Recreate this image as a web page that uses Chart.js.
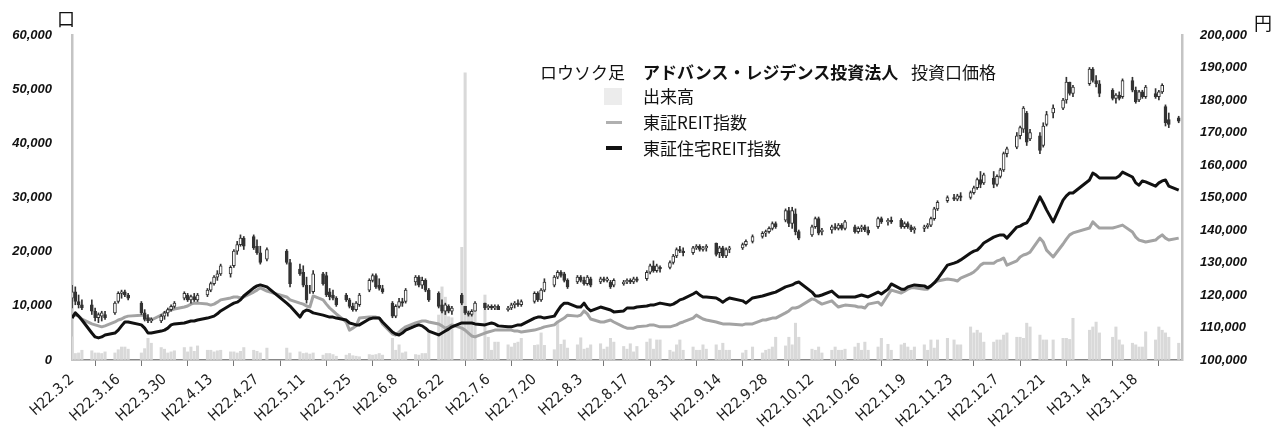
<!DOCTYPE html>
<html lang="ja">
<head>
<meta charset="utf-8">
<script src="https://cdn.jsdelivr.net/npm/chart.js@4/dist/chart.umd.min.js"></script>
<style>
  body { margin: 0; background: #fff; }
  #wrap { position: relative; width: 1282px; height: 429px; }
  .txt { position: absolute; font-family: "Noto Sans CJK JP", sans-serif; font-size: 17px; color: #111; white-space: nowrap; line-height: 20px; }
  .sw { position: absolute; }
</style>
</head>
<body>
<div id="wrap">
  <canvas id="myChart" width="1282" height="429"></canvas>
  <div class="txt" style="left:57px; top:8px; font-size:18px;">口</div>
  <div class="txt" style="left:1254px; top:12px; font-size:18px;">円</div>
  <div class="txt" style="left:540px; top:62px;">ロウソク足</div>
  <div class="txt" style="left:643px; top:62px; font-weight:bold;">アドバンス・レジデンス投資法人</div>
  <div class="txt" style="left:911px; top:62px;">投資口価格</div>
  <div class="sw" style="left:604px; top:88px; width:18px; height:17px; background:#ececec;"></div>
  <div class="txt" style="left:643px; top:86px;">出来高</div>
  <div class="sw" style="left:606px; top:121px; width:16px; height:3px; background:#b0b0b0;"></div>
  <div class="txt" style="left:643px; top:112px;">東証REIT指数</div>
  <div class="sw" style="left:606px; top:146px; width:16px; height:4px; background:#111;"></div>
  <div class="txt" style="left:643px; top:138px;">東証住宅REIT指数</div>
</div>
<script>
// tick labels, one every 14 days from H22.3.2
const xLabels = ["H22.3.2", "H22.3.16", "H22.3.30", "H22.4.13", "H22.4.27", "H22.5.11",
  "H22.5.25", "H22.6.8", "H22.6.22", "H22.7.6", "H22.7.20", "H22.8.3", "H22.8.17",
  "H22.8.31", "H22.9.14", "H22.9.28", "H22.10.12", "H22.10.26", "H22.11.9",
  "H22.11.23", "H22.12.7", "H22.12.21", "H23.1.4", "H23.1.18"];

// candles, thousand yen, one entry per weekday (null = market closed)
const openK = [
  119, 121, 118, 117,
  117, 115, 113, 113.5, 114,
  114.5, 118, 120.5, 121, 120,
  null, 117.5, 114.5, 113, 112,
  112, 113.5, 114.5, 115.5, 116.5,
  119, 120, 118.5, 119.5, 118.5,
  120, 121.5, 123.5, 125.5, 126.5,
  126.5, 129, 133.5, 135.5, 137.5,
  138, 135, 133, null, 131,
  null, null, null, 133.5, 130,
  128, 127, 123, 121, 121,
  126.5, 126, 121, 120, 119,
  120, 118.5, 116.5, 115.5, 117,
  121.5, 124.5, 126, 123, 122,
  117.5, 113.5, 116.5, 118, 118,
  124, 125.5, 123, 124.5, 121.5,
  120.5, 117, 115, 116.5, 115,
  120, 116.5, 114.5, 114, 115,
  117.5, 116, 116.5, 116, 116.5,
  115.5, 116, 117, 117.5, 117,
  null, 118, 120.5, 118.5, 121.5,
  123, 125.5, 127, 126.5, 124.5,
  124, 125.5, 124.5, 123.5, 125,
  124, 125, 124.5, 124, 123,
  123.5, 124, 124.5, 124, 125,
  125, 127, 129, 127.5, 128.5,
  128.5, 130, 132, 134, 133.5,
  133, 134.5, 135, 134, 134.5,
  136, 133, 134.5, 132, 134,
  null, 134.5, 135.5, null, 136.5,
  138, 139, 139.5, 140.5, 142,
  143, 146, 142, 145, 139.5,
  null, 138.5, 141, 143.5, 139.5,
  140, 141, 140.5, 141.5, 140.5,
  141, 139.5, 140.5, 141, 140,
  141, 143.5, null, 142.5, 143,
  143, 141, 142, 141, 140,
  140.5, 141, 141.5, 143.5, 146.5,
  149, null, 150, 149.5, 150.5,
  150, 151.5, 153, 155.5, 154.5,
  156, 154, 156.5, 158.5, 163.5,
  165.5, 169, 171, 176, 168,
  169, 166, 172.5, null, 176,
  177.5, 180, 185.5, 182, null,
  null, 185, 189.5, 186, 185,
  null, 183, 180.5, 181.5, 181,
  186, 183, 180, 182.5, 181,
  182, 181, 182.5, 178, 174,
  174.5];
const highK = [
  123, 122.5, 120, 118.5,
  118.5, 116, 114.5, 115, 115,
  118, 121, 121.5, 121.5, 120.5,
  null, 118, 115.5, 114, 113,
  114, 115, 116, 117, 118,
  121, 120.5, 120, 120.5, 120.5,
  122, 124, 126, 127.5, 129.5,
  129, 134, 136.5, 138.5, 138,
  138.5, 137, 135, null, 134.5,
  null, null, null, 134, 131,
  129.5, 129, 125.5, 123, 127.5,
  127, 127, 122, 121.5, 119.5,
  120.5, 119, 117.5, 118, 120.5,
  125, 126.5, 126.5, 125, 123,
  118, 117, 119, 119, 122,
  126, 126, 125.5, 125, 122,
  121, 118.5, 117.5, 117, 116.5,
  120.5, 116.5, 115, 115.5, 118,
  117.5, 117, 117, 117, 117,
  116.5, 117.5, 118, 118.5, 118.5,
  null, 121, 121, 122, 125,
  126, 127.5, 127.5, 127, 125,
  126, 126, 125.5, 126, 125.5,
  125.5, 125.5, 125.5, 124.5, 125,
  124.5, 125, 125, 125.5, 125.5,
  127.5, 129.5, 130.5, 129.5, 129,
  130.5, 132.5, 134.5, 135, 134.5,
  135, 135.5, 135.5, 135, 135.5,
  136, 135, 135, 134.5, 135,
  null, 136, 137, null, 138.5,
  139.5, 140, 141, 142.5, 142.5,
  146.5, 147, 147, 146.5, 140,
  null, 141.5, 144, 144, 140.5,
  141.5, 142, 142, 142, 143,
  141.5, 141, 141.5, 141.5, 141,
  144, 144, null, 143.5, 144,
  143.5, 142.5, 142.5, 141.5, 141,
  141.5, 142, 144, 147, 149,
  150.5, null, 151, 151, 151.5,
  152, 153.5, 156, 158, 157.5,
  158, 157, 159, 164, 165.5,
  170, 172, 178, 176.5, 171,
  170, 173, 176.5, null, 178.5,
  180.5, 187, 185.5, 184.5, null,
  null, 190, 190, 187.5, 186,
  null, 183.5, 182, 182.5, 186.5,
  187, 184, 183, 183, 184.5,
  183.5, 183, 185, 178.5, 176,
  175];
const lowK = [
  116, 117, 116, 115.5,
  114, 112, 111.5, 112, 112.5,
  114, 117.5, 119, 119.5, 118.5,
  null, 114, 112, 111.5, 111.5,
  111.5, 112.5, 113.5, 115, 116,
  118.5, 118, 117.5, 118, 118,
  119.5, 121, 123, 124.5, 126,
  125.5, 128.5, 132.5, 135, 134,
  134, 132.5, 129.5, null, 130.5,
  null, null, null, 129.5, 122.5,
  126, 122.5, 117.5, 120.5, 120.5,
  123, 119.5, 118.5, 118.5, 116.5,
  118, 116, 115, 115, 116.5,
  121, 124, 122, 121.5, 120.5,
  113, 113, 116, 116.5, 117.5,
  123, 122.5, 122, 121, 118,
  116, 114.5, 114, 114.5, 114,
  117, 114, 113.5, 113.5, 115,
  115.5, 115.5, 115.5, 115.5, 115.5,
  115, 115.5, 116, 116.5, 116.5,
  null, 117.5, 118, 118, 121,
  122.5, 125, 125.5, 124, 122,
  123.5, 124, 123, 123, 122.5,
  123.5, 124, 124, 122, 122.5,
  123, 123.5, 123.5, 123.5, 124,
  124.5, 126.5, 127, 127, 127,
  128, 129.5, 131.5, 133, 132,
  132.5, 134, 133.5, 133.5, 133.5,
  132, 131.5, 131.5, 131.5, 133,
  null, 134, 135, null, 136,
  137.5, 138, 139, 140, 140.5,
  142.5, 141, 140.5, 138.5, 137,
  null, 138, 140.5, 138.5, 138.5,
  139, 140, 140, 140, 140,
  139, 139, 139.5, 139.5, 138.5,
  140.5, 142, null, 141.5, 142,
  140.5, 140.5, 140.5, 139.5, 139,
  139.5, 140.5, 141, 143, 146,
  148.5, null, 149, 149, 149,
  149.5, 151, 152.5, 153, 154,
  153, 153.5, 156, 158, 162.5,
  165, 168, 170, 166, 167.5,
  163.5, 165.5, 172, null, 174.5,
  177, 179, 181.5, 181, null,
  null, 184.5, 185.5, 184, 181,
  null, 180, 179, 180, 180.5,
  182.5, 179, 179.5, 180.5, 180.5,
  180.5, 180, 182, 172, 171.5,
  173];
const closeK = [
  121, 118, 117, 116,
  115, 113, 114, 114.5, 113,
  117.5, 120.5, 121, 120, 119,
  null, 114.5, 112.5, 112, 112.5,
  113.5, 114.5, 115.5, 116.5, 117.5,
  120.5, 118.5, 119.5, 118.5, 120,
  121.5, 123.5, 125.5, 126.5, 129,
  128.5, 133.5, 135.5, 137.5, 135,
  134.5, 133, 130, null, 134,
  null, null, null, 130, 123.5,
  126.5, 123, 118.5, 121, 126.5,
  123.5, 120, 119.5, 119, 117,
  118.5, 116.5, 115.5, 117.5, 120,
  124.5, 126, 122.5, 122, 121,
  113.5, 116.5, 118, 117.5, 121.5,
  125.5, 123, 124.5, 121.5, 118.5,
  116.5, 115, 117, 115, 116,
  117.5, 114.5, 114, 115, 117.5,
  116, 116.5, 116, 116.5, 115.5,
  116, 117, 117.5, 117, 118,
  null, 120.5, 118.5, 121.5, 124,
  125.5, 127, 126, 124.5, 122.5,
  125.5, 124.5, 123.5, 125.5, 123,
  125, 124.5, 125, 122.5, 124.5,
  124, 124.5, 124, 125, 124.5,
  127, 129, 127.5, 129, 128,
  130, 132, 134, 133.5, 133,
  134.5, 135, 134, 134.5, 135,
  132.5, 134.5, 132, 134, 134.5,
  null, 135.5, 136.5, null, 138,
  139, 139.5, 140.5, 142, 141,
  146, 142, 146, 139.5, 137.5,
  null, 141, 143.5, 139, 140,
  141, 140.5, 141.5, 140.5, 142.5,
  139.5, 140.5, 141, 140, 139,
  143.5, 142.5, null, 143, 142.5,
  141, 142, 141, 140, 140.5,
  141, 141.5, 143.5, 146.5, 148.5,
  150, null, 149.5, 150.5, 150,
  151.5, 153, 155.5, 154, 157,
  154, 156.5, 158.5, 163.5, 165,
  169, 171.5, 177.5, 167, 170,
  164.5, 172, 175.5, null, 177.5,
  180, 185.5, 182, 184, null,
  null, 189.5, 186, 185, 182,
  null, 180.5, 181.5, 180.5, 186,
  183, 179.5, 182.5, 181, 184,
  181, 182.5, 184.5, 173, 172.5,
  173.5];

// volume (units)
const volume = [
  4300, 1200, 1300, 1800,
  1700, 1300, 1300, 1200, 1500,
  1300, 1900, 2400, 2400, 2000,
  null, 1300, 2100, 4000, 3100,
  2300, 2000, 1300, 1500, 1700,
  2300, 1500, 2400, 1600, 2600,
  1800, 1800, 1500, 1700, 1800,
  1500, 1500, 1300, 1600, 2300,
  1800, 1600, 1300, null, 2200,
  null, null, null, 2200, 1300,
  1500, 1200, 1300, 1100, 1300,
  900, 1200, 1200, 1000, 700,
  900, 1200, 800, 700, 600,
  1000, 900, 1000, 1200, 900,
  4000, 1800, 2800, 1300, 1500,
  1000, 900, 1200, 1200, 5000,
  8300, 13500, 11600, 8000, 7800,
  20800, 53000, 9200, 8700, 10500,
  12000, 4200, 1800, 3300, 3300,
  2800, 2400, 3100, 3300, 4000,
  null, 2700, 2800, 5000, 2700,
  1900, 7000, 2900, 3700, 2200,
  2800, 4100, 2000, 2200, 2800,
  3000, 2000, 2400, 4000, 3300,
  2500, 2000, 3000, 1500, 2500,
  3300, 3900, 2000, 3700, 3700,
  1800, 1500, 2800, 3700, 1800,
  2400, 1800, 1800, 2800, 2000,
  2800, 1800, 3100, 1800, 1800,
  null, 1300, 1800, null, 2400,
  1300, 1800, 2000, 2400, 4200,
  2600, 4200, 2800, 6800, 4200,
  null, 2000, 1800, 2400, 1300,
  1800, 2400, 1800, 1800, 2000,
  2400, 3100, 1800, 3300, 1800,
  2400, 4000, null, 2900, 1800,
  2800, 3100, 2400, 1800, 2400,
  2800, 1800, 3700, 2200, 3700,
  4000, null, 3700, 2800, 2800,
  6100, 5000, 5500, 5000, 3300,
  3300, 3700, 3700, 4600, 5000,
  4200, 4200, 4000, 6800, 6100,
  4600, 3700, 3700, null, 3700,
  4000, 4000, 3800, 7700, null,
  null, 5500, 6100, 7000, 5000,
  null, 4200, 6100, 3700, 2800,
  3100, 2800, 2400, 2400, 5200,
  3700, 6100, 5500, 5000, 4200,
  3100];

// index lines (plotted against a hidden scale)
const reitIndex = [
  113.5, 113.8, 113.5, 112.6,
  111.1, 110.8, 110.5, 110.2, 110.5,
  111.7, 112.3, 112.6, 113.2, 113.5,
  null, 113.8, 113.8, 112.9, 112.3,
  113.8, 114.5, 115.1, 115.4, 115.7,
  116.3, 116.6, 117.2, 117.5, 117.5,
  117.2, 116.9, 117.2, 117.8, 118.5,
  119.1, 119.4, 119.4, 119.1, 119.4,
  120.9, 121.5, 122.2, null, 121.2,
  null, null, null, 119.4, 118.5,
  117.5, 117.2, 116.6, 116.3, 119.7,
  118.5, 117.2, 116.0, 115.1, 114.2,
  111.7, 109.2, 109.8, 110.5, 112.9,
  113.2, 113.2, 113.2, 112.9, 111.1,
  108.0, 107.7, 108.6, 109.5, 110.2,
  111.4, 111.7, 112.0, 112.0, 111.7,
  111.1, 110.5, 109.8, 110.2, 110.8,
  109.8, 109.2, 108.3, 107.4, 107.1,
  108.3, 108.6, 108.9, 109.2, 109.2,
  109.2, 109.2, 108.9, 108.9, 108.6,
  null, 109.2, 109.5, 109.8, 110.2,
  110.8, 111.7, 112.3, 112.9, 113.8,
  113.5, 113.8, 115.1, 114.2, 112.6,
  111.7, 111.7, 112.0, 112.3, 111.7,
  110.2, 109.8, 109.8, 109.8, 110.2,
  110.5, 110.8, 110.8, 110.5, 110.2,
  110.2, 110.5, 110.8, 111.4, 111.7,
  112.9, 113.8, 113.2, 112.6, 112.3,
  111.7, 111.4, 111.1, 111.1, 111.1,
  null, 110.8, 111.1, null, 111.1,
  112.3, 112.3, 112.6, 112.9, 112.9,
  114.5, 115.1, 116.0, 116.0, 116.3,
  null, 118.8, 118.5, 117.8, 117.2,
  118.2, 117.2, 116.3, 116.6, 116.9,
  116.6, 116.3, 116.3, 116.0, 117.2,
  117.8, 116.9, null, 120.0, 121.5,
  120.6, 121.2, 121.8, 122.2, 122.2,
  121.8, 121.8, 122.8, 123.7, 124.3,
  124.9, null, 124.6, 124.3, 125.2,
  126.5, 127.1, 128.0, 129.2, 129.8,
  129.8, 130.5, 130.8, 131.4, 129.2,
  130.5, 131.7, 132.3, 132.6, 133.2,
  137.5, 136.3, 133.8, null, 131.7,
  135.7, 137.2, 138.5, 139.1, null,
  null, 140.6, 142.5, 141.5, 140.6,
  null, 140.6, 140.9, 141.2, 141.5,
  139.4, 137.8, 136.9, 136.6, 136.3,
  136.9, 137.8, 138.5, 137.5, 136.9,
  137.5];
const residentialIndex = [
  112.9, 114.5, 113.5, 112.3,
  108.3, 107.1, 106.8, 107.1, 107.7,
  108.3, 109.2, 110.5, 111.7, 111.7,
  null, 110.8, 109.8, 108.3, 108.3,
  108.9, 109.2, 109.8, 110.8, 111.1,
  111.4, 111.7, 112.0, 112.0, 112.3,
  112.9, 113.2, 113.5, 114.2, 115.1,
  116.9, 117.5, 117.8, 118.5, 119.7,
  122.2, 122.8, 123.1, null, 122.5,
  null, null, null, 117.5, 116.6,
  113.2, 114.8, 115.4, 115.1, 114.5,
  113.8, 113.5, 113.2, 113.2, 112.9,
  112.3, 111.4, 111.1, 110.8, 110.8,
  112.6, 112.9, 112.9, 112.9, 111.7,
  108.6, 108.0, 107.7, 108.3, 109.2,
  110.5, 110.8, 110.5, 109.8, 108.9,
  107.7, 108.3, 108.9, 109.5, 110.2,
  111.4, 111.4, 111.4, 111.4, 111.1,
  110.8, 111.1, 111.4, 111.1, 110.5,
  110.2, 110.2, 110.5, 110.8, 110.8,
  null, 112.9, 113.2, 113.2, 112.9,
  113.5, 115.1, 116.6, 117.5, 117.5,
  116.3, 116.3, 117.5, 116.0, 115.1,
  116.3, 116.0, 115.7, 115.4, 114.8,
  115.1, 116.0, 116.0, 116.0, 116.3,
  116.6, 116.9, 116.9, 117.2, 117.5,
  116.9, 117.2, 117.8, 118.5, 118.8,
  120.3, 120.9, 120.0, 119.4, 119.4,
  119.1, 118.5, 117.8, 118.5, 119.1,
  null, 118.2, 117.5, null, 119.1,
  119.7, 120.0, 120.3, 120.6, 120.9,
  122.5, 122.8, 123.1, 123.7, 124.0,
  null, 120.9, 119.7, 119.7, 120.0,
  121.2, 120.3, 119.4, 119.4, 119.4,
  119.4, 119.7, 120.0, 119.7, 119.4,
  120.9, 120.3, null, 121.8, 123.4,
  121.8, 121.8, 122.5, 122.8, 123.1,
  122.8, 122.2, 122.8, 123.7, 124.9,
  129.2, null, 129.8, 130.2, 130.8,
  132.9, 133.5, 133.8, 134.8, 136.0,
  137.8, 138.2, 138.5, 138.5, 137.5,
  140.9, 141.2, 141.8, 142.2, 143.7,
  150.2, 148.3, 146.2, null, 142.5,
  149.2, 150.5, 151.4, 151.4, null,
  null, 155.4, 157.5, 156.9, 156.0,
  null, 156.0, 156.0, 156.6, 157.8,
  156.3, 154.5, 153.8, 155.1, 154.8,
  153.5, 154.5, 155.1, 155.4, 153.5,
  152.3];

// weekdays from H22.3.2 (day 0) to H23.1.31 (day 335)
const dayOffsets = [];
for (let d = 0; d <= 335; d++) {
  const dow = new Date(2010, 2, 2 + d).getDay();
  if (dow > 0 && dow < 6) dayOffsets.push(d);
}

function toPoints(arr, makeY) {
  const pts = [];
  dayOffsets.forEach((d, i) => {
    if (arr[i] == null) return;
    pts.push({ x: d, y: makeY(i) });
  });
  return pts;
}

const volumePoints = toPoints(volume, (i) => volume[i]);
const reitPoints = toPoints(reitIndex, (i) => reitIndex[i]);
const residentialPoints = toPoints(residentialIndex, (i) => residentialIndex[i]);
const wickPoints = toPoints(closeK, (i) => [lowK[i] * 1000, highK[i] * 1000]);
const bodyPoints = [];
dayOffsets.forEach((d, i) => {
  if (closeK[i] == null) return;
  bodyPoints.push({ x: d, y: [openK[i] * 1000, closeK[i] * 1000], up: closeK[i] >= openK[i] });
});

const numFont = { family: "'Liberation Sans', Arial, sans-serif", size: 13, weight: "bold", style: "italic" };
const dateFont = { family: "'Liberation Sans Narrow', 'DejaVu Sans Condensed', sans-serif", size: 15 };

const ctx = document.getElementById("myChart");

new Chart(ctx, {
  type: "bar",
  data: {
    datasets: [
      {
        type: "bar",
        label: "ロウソク足",
        data: bodyPoints,
        yAxisID: "y2",
        backgroundColor: (c) => (c.raw && c.raw.up ? "#ffffff" : "#333333"),
        borderColor: "#333333",
        borderWidth: 1,
        borderSkipped: false,
        barThickness: 3,
        grouped: false,
        order: 0,
      },
      {
        type: "bar",
        label: "wick",
        data: wickPoints,
        yAxisID: "y2",
        backgroundColor: "#333333",
        barThickness: 1,
        grouped: false,
        order: 1,
      },
      {
        type: "line",
        label: "東証住宅REIT指数",
        data: residentialPoints,
        yAxisID: "idx",
        borderColor: "#111111",
        borderWidth: 3,
        pointRadius: 0,
        borderJoinStyle: "round",
        order: 2,
      },
      {
        type: "line",
        label: "東証REIT指数",
        data: reitPoints,
        yAxisID: "idx",
        borderColor: "#a3a3a3",
        borderWidth: 3,
        pointRadius: 0,
        borderJoinStyle: "round",
        order: 3,
      },
      {
        type: "bar",
        label: "出来高",
        data: volumePoints,
        yAxisID: "y",
        backgroundColor: "#d9d9d9",
        barThickness: 2.4,
        grouped: false,
        order: 4,
      },
    ],
  },
  options: {
    responsive: false,
    animation: false,
    devicePixelRatio: 1,
    layout: { padding: { top: 35, left: 0, right: 0, bottom: 0 } },
    plugins: { legend: { display: false }, tooltip: { enabled: false } },
    scales: {
      x: {
        type: "linear",
        min: 0,
        max: 336,
        offset: false,
        ticks: {
          stepSize: 14,
          autoSkip: false,
          minRotation: 42,
          maxRotation: 42,
          padding: 5,
          color: "#222",
          font: dateFont,
          callback: (v) => xLabels[v / 14] || "",
        },
        grid: { drawOnChartArea: false, tickLength: 6, color: "#777" },
        border: { color: "#888", width: 1.5 },
        afterFit: (s) => { s.height = 69; },
      },
      y: {
        position: "left",
        min: 0,
        max: 60000,
        ticks: {
          stepSize: 10000,
          padding: 20,
          color: "#111",
          font: numFont,
          callback: (v) => v.toLocaleString("en-US"),
        },
        grid: { drawOnChartArea: false, drawTicks: false },
        border: { color: "#c4c4c4", width: 2.5 },
        afterFit: (s) => { s.width = 72; },
      },
      y2: {
        position: "right",
        min: 100000,
        max: 200000,
        ticks: {
          stepSize: 10000,
          padding: 18,
          color: "#111",
          font: numFont,
          callback: (v) => v.toLocaleString("en-US"),
        },
        grid: { drawOnChartArea: false, drawTicks: false },
        border: { color: "#c4c4c4", width: 2.5 },
        afterFit: (s) => { s.width = 100; },
      },
      idx: { display: false, min: 100, max: 200 },
    },
  },
});
</script>
</body>
</html>
